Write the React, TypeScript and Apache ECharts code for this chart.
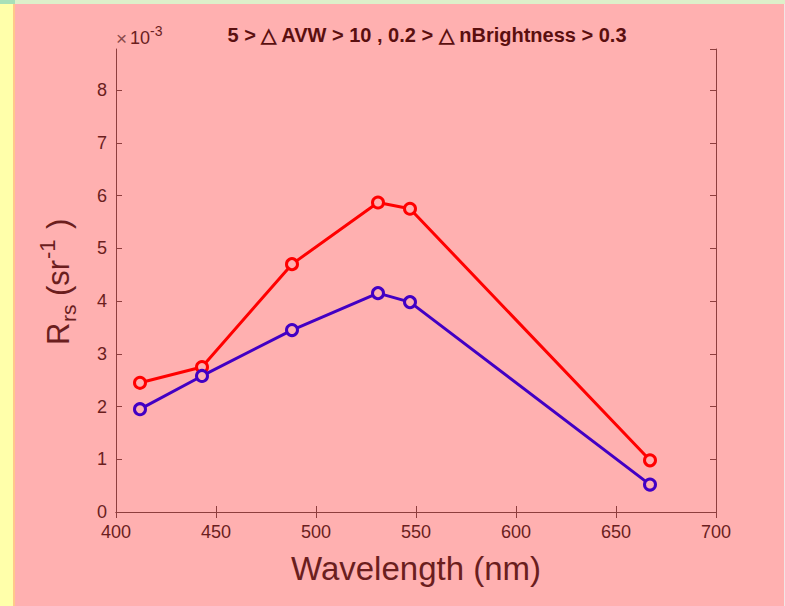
import React, { useEffect, useRef } from "react";
import * as echarts from "echarts";

const wavelengths = [412, 443, 488, 531, 547, 667];
const redValues = [2.45, 2.75, 4.7, 5.87, 5.75, 0.98];
const blueValues = [1.95, 2.58, 3.45, 4.15, 3.98, 0.52];
const xTicks = [400, 450, 500, 550, 600, 650, 700];
const yTicks = [0, 1, 2, 3, 4, 5, 6, 7, 8];
const titleText = "5 > \u25B3 AVW > 10 , 0.2 > \u25B3 nBrightness > 0.3";

const TEXT = "#6B1E1E";
const AXIS = "#8E3E3E";
const FONT = "'Liberation Sans', Arial, Helvetica, sans-serif";

export default function App() {
  const ref = useRef<HTMLDivElement>(null);
  useEffect(() => {
    if (!ref.current) return;
    const chart = echarts.init(ref.current, undefined, { renderer: "svg" });
    const pair = (vals: number[]) => wavelengths.map((w, i) => [w, vals[i]]);
    const lab = (text: string, x: number, y: number, size: number) => ({
      type: "text",
      x,
      y,
      style: { text, fontSize: size, fill: TEXT, fontFamily: FONT, textAlign: "left", textVerticalAlign: "middle" },
    });
    chart.setOption({
      animation: false,
      backgroundColor: "#FFB0B0",
      textStyle: { fontFamily: FONT },
      grid: { left: 116, right: 69, top: 49, bottom: 94, containLabel: false },
      title: {
        text: titleText,
        left: 422,
        top: 20,
        textAlign: "center",
        textStyle: { fontSize: 20, fontWeight: "bold", color: "#5A0F0F", fontFamily: FONT },
      },
      xAxis: [
        {
          type: "value",
          min: xTicks[0],
          max: xTicks[xTicks.length - 1],
          interval: 50,
          position: "bottom",
          axisLine: { show: true, lineStyle: { color: AXIS, width: 1 } },
          axisTick: { show: true, inside: true, length: 6, lineStyle: { color: AXIS } },
          axisLabel: { color: TEXT, fontSize: 18, margin: 11, fontFamily: FONT },
          splitLine: { show: false },
          name: "Wavelength (nm)",
          nameLocation: "middle",
          nameGap: 40,
          nameTextStyle: { color: TEXT, fontSize: 33, fontFamily: FONT },
        },
        {
          type: "value",
          min: xTicks[0],
          max: xTicks[xTicks.length - 1],
          interval: 50,
          position: "top",
          axisLine: { show: true, lineStyle: { color: AXIS, width: 1 } },
          axisTick: { show: true, inside: true, length: 6, lineStyle: { color: AXIS } },
          axisLabel: { show: false },
          splitLine: { show: false },
        },
      ],
      yAxis: [
        {
          type: "value",
          min: 0,
          max: 8.78,
          interval: 1,
          position: "left",
          axisLine: { show: true, lineStyle: { color: AXIS, width: 1 } },
          axisTick: { show: true, inside: true, length: 6, lineStyle: { color: AXIS } },
          axisLabel: {
            color: TEXT,
            fontSize: 18,
            margin: 9,
            fontFamily: FONT,
            showMaxLabel: false,
            formatter: (v: number) => (yTicks.includes(v) ? String(v) : ""),
          },
          splitLine: { show: false },
        },
        {
          type: "value",
          min: 0,
          max: 8.78,
          interval: 1,
          position: "right",
          axisLine: { show: true, lineStyle: { color: AXIS, width: 1 } },
          axisTick: { show: true, inside: true, length: 6, lineStyle: { color: AXIS } },
          axisLabel: { show: false },
          splitLine: { show: false },
        },
      ],
      series: [
        {
          type: "line",
          data: pair(redValues),
          lineStyle: { color: "#FF0000", width: 3 },
          itemStyle: { color: "#FFB0B0", borderColor: "#FF0000", borderWidth: 3 },
          symbol: "circle",
          symbolSize: 11,
          showAllSymbol: true,
        },
        {
          type: "line",
          data: pair(blueValues),
          lineStyle: { color: "#4200C4", width: 3 },
          itemStyle: { color: "#FFB0B0", borderColor: "#4200C4", borderWidth: 3 },
          symbol: "circle",
          symbolSize: 11,
          showAllSymbol: true,
        },
      ],
      graphic: [
        { type: "rect", shape: { x: 0, y: 0, width: 13, height: 606 }, style: { fill: "#FFFFAA" }, silent: true },
        { type: "rect", shape: { x: 13, y: 0, width: 2, height: 606 }, style: { fill: "#FFC88A" }, silent: true },
        { type: "rect", shape: { x: 0, y: 0, width: 785, height: 4 }, style: { fill: "#DDF0CA" }, silent: true },
        { type: "rect", shape: { x: 0, y: 0, width: 15, height: 4 }, style: { fill: "#A8E0B8" }, silent: true },
        { type: "rect", shape: { x: 784, y: 4, width: 1, height: 602 }, style: { fill: "#F2E4E4" }, silent: true },
        { type: "text", x: 116, y: 29, style: { text: "\u00D7", fontSize: 19, fill: "#8A4A4A", fontFamily: FONT } },
        { type: "text", x: 130, y: 29, style: { text: "10", fontSize: 18, fill: TEXT, fontFamily: FONT } },
        { type: "text", x: 150, y: 24, style: { text: "-3", fontSize: 14, fill: TEXT, fontFamily: FONT } },
        {
          type: "group",
          x: 58,
          y: 345,
          rotation: Math.PI / 2,
          children: [
            lab("R", 0, 0, 31),
            lab("rs", 23, 10, 21),
            lab("(sr", 49, 0, 31),
            lab("-1", 86, -11, 22),
            lab(")", 116, 0, 31),
          ],
        },
      ],
    });
    return () => chart.dispose();
  }, []);
  return <div ref={ref} style={{ position: "fixed", left: 0, top: 0, width: 785, height: 606 }} />;
}
